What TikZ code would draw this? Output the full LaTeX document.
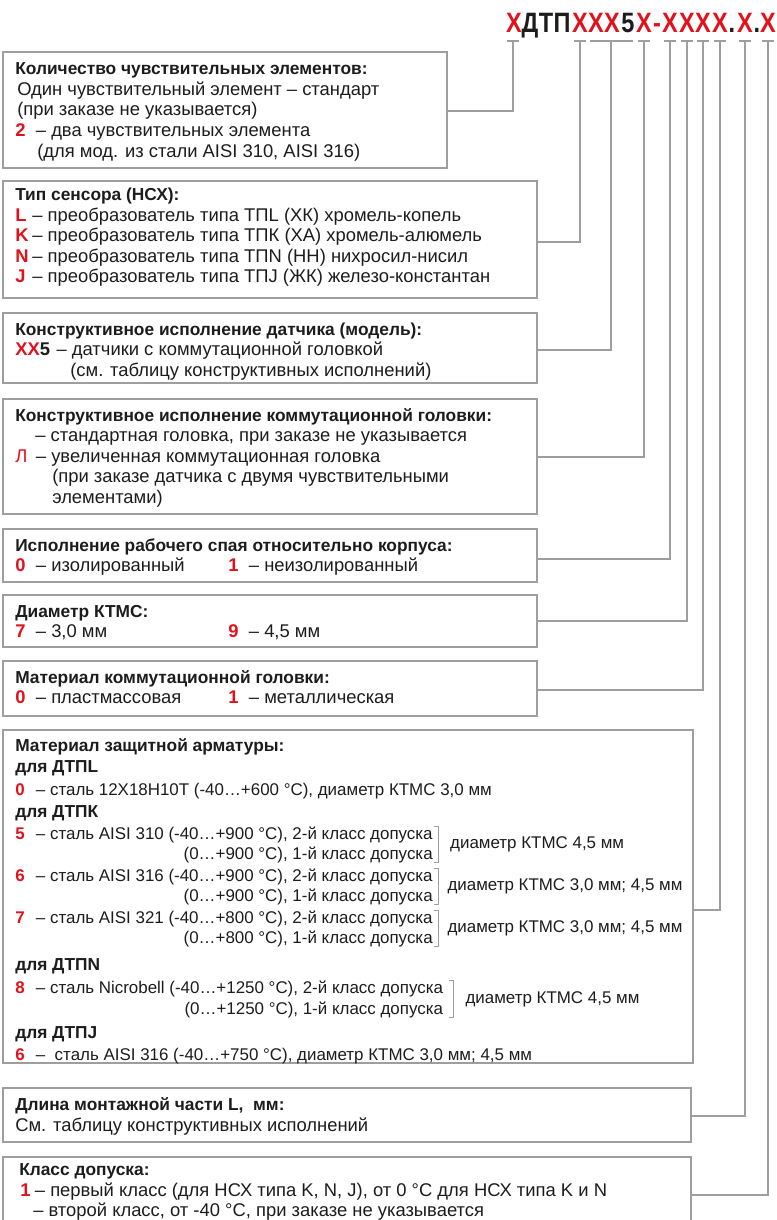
\documentclass[tikz,border=0pt]{standalone}
\usepackage{fontspec}
\usepackage{graphicx}
\setmainfont{Liberation Sans}
\usetikzlibrary{positioning,fit}

\definecolor{codered}{RGB}{226,18,28}
\definecolor{inkgray}{RGB}{28,28,28}
\definecolor{framegray}{RGB}{158,158,158}

\newcommand{\txtfont}{\fontsize{13.8}{15}\selectfont}
\newcommand{\ttlfont}{\fontsize{13}{15}\selectfont\bfseries}
\newcommand{\rowfont}{\fontsize{12.7}{15}\selectfont}
\newcommand{\codefont}{\fontsize{21}{24}\selectfont\bfseries}
\newcommand{\rd}[1]{\textcolor{codered}{\textbf{#1}}}
\newcommand{\nm}[2][15.5pt]{\makebox[#1][l]{\rd{#2}}}

\tikzset{
  box/.style={draw=framegray, line width=1.5pt, inner sep=0pt},
  wire/.style={draw=framegray, line width=1.1pt},
  brk/.style={draw=framegray, line width=0.6pt},
  txt/.style={anchor=base west, inner sep=0pt, font=\txtfont, text=inkgray},
  rowtxt/.style={txt, font=\rowfont},
  ttl/.style={txt, font=\ttlfont},
  codechar/.style={anchor=base, inner sep=0pt, font=\codefont},
}

\begin{document}
\begin{tikzpicture}[x=0.75pt,y=0.75pt,yscale=-1]
\useasboundingbox (0,0) rectangle (777,1220);

% Code line
\foreach \ch/\xx/\cc [count=\i] in {X/514/codered, Д/530/inkgray, Т/546/inkgray, П/562/inkgray, X/580/codered, X/596/codered, X/612/codered, 5/628/inkgray, X/644/codered, -/657/codered, X/670/codered, X/687/codered, X/703/codered, X/720/codered, ./732/inkgray, X/745/codered, ./757/inkgray, X/768/codered}
  \node [codechar, text=\cc] (c\i) at (\xx,33) {\scalebox{0.84}[1]{\ch}};

% Tick points
\coordinate (k1) at (513,41);
\coordinate (k2) at (580,41);
\coordinate (k3) at (611,41);
\coordinate (k4) at (644,41);
\coordinate (k5) at (670,41);
\coordinate (k6) at (687,41);
\coordinate (k7) at (703,41);
\coordinate (k8) at (720,41);
\coordinate (k9) at (745,41);
\coordinate (k10) at (768,41);

%Straight Lines
\draw [wire] (k1) ++(-6,0) -- ++(12,0);
\draw [wire] (k2) ++(-6,0) -- ++(12,0);
\draw [wire] (590,41) -- (633,41);
\draw [wire] (k4) ++(-6,0) -- ++(12,0);
\draw [wire] (k5) ++(-6,0) -- ++(12,0);
\draw [wire] (k6) ++(-6,0) -- ++(12,0);
\draw [wire] (k7) ++(-6,0) -- ++(12,0);
\draw [wire] (k8) ++(-6,0) -- ++(12,0);
\draw [wire] (k9) ++(-6,0) -- ++(12,0);
\draw [wire] (k10) ++(-6,0) -- ++(12,0);

% Boxes
\node [box, fit={(3,52) (447,168)}] (b1) {};
\node [box, fit={(3,181) (537,298)}] (b2) {};
\node [box, fit={(3,313) (537,383)}] (b3) {};
\node [box, fit={(3,399) (537,514)}] (b4) {};
\node [box, fit={(3,529) (537,582)}] (b5) {};
\node [box, fit={(3,595) (537,647)}] (b6) {};
\node [box, fit={(3,661) (537,716)}] (b7) {};
\node [box, fit={(3,730) (693,1063)}] (b8) {};
\node [box, fit={(3,1088) (691,1142)}] (b9) {};
\node [box, fit={(3,1157) (691,1240)}] (b10) {};

% Connectors
\draw [wire] (b1.east |- 0,111) -| (k1);
\draw [wire] (b2.east |- 0,242) -| (k2);
\draw [wire] (b3.east |- 0,350) -| (k3);
\draw [wire] (b4.east |- 0,457) -| (k4);
\draw [wire] (b5.east |- 0,559) -| (k5);
\draw [wire] (b6.east |- 0,621) -| (k6);
\draw [wire] (b7.east |- 0,690) -| (k7);
\draw [wire] (b8.east |- 0,910) -| (k8);
\draw [wire] (b9.east |- 0,1116) -| (k9);
\draw [wire] (b10.east |- 0,1195) -| (k10);

% Text Node
\node [ttl] (h1) at (15,75) {Количество чувствительных элементов:};
\node [txt] (l1a) at (17,95.5) {Один чувствительный элемент – стандарт};
\node [txt] (l1b) at (17,116) {(при заказе не указывается)};
\node [txt] (l1c) at (15,136.5) {\nm{2}– два чувствительных элемента};
\node [txt] (l1d) at (37,157) {(для мод. из стали AISI 310, AISI 316)};

% Text Node
\node [ttl] (h2) at (15,200.5) {Тип сенсора (НСХ):};
\node [txt] (l2a) at (15,221) {\nm[12.75pt]{L}– преобразователь типа ТПL (ХК) хромель-копель};
\node [txt] (l2b) at (15,241.5) {\nm[12.75pt]{K}– преобразователь типа ТПК (ХА) хромель-алюмель};
\node [txt] (l2c) at (15,262) {\nm[12.75pt]{N}– преобразователь типа ТПN (НН) нихросил-нисил};
\node [txt] (l2d) at (15,282.5) {\nm[12.75pt]{J}– преобразователь типа ТПJ (ЖК) железо-константан};

% Text Node
\node [ttl] (h3) at (15,335) {Конструктивное исполнение датчика (модель):};
\node [txt] (l3a) at (15,355.5) {\makebox[31pt][l]{\rd{XX}\textbf{5}}– датчики с коммутационной головкой};
\node [txt] (l3b) at (70,376) {(см. таблицу конструктивных исполнений)};

% Text Node
\node [ttl] (h4) at (15,421) {Конструктивное исполнение коммутационной головки:};
\node [txt] (l4a) at (35,441.5) {– стандартная головка, при заказе не указывается};
\node [txt] (l4b) at (15,462) {\makebox[15.5pt][l]{\textcolor{codered}{Л}}– увеличенная коммутационная головка};
\node [txt] (l4c) at (52,482.5) {(при заказе датчика с двумя чувствительными};
\node [txt] (l4d) at (52,503) {элементами)};

% Text Node
\node [ttl] (h5) at (15,551) {Исполнение рабочего спая относительно корпуса:};
\node [txt] (l5a) at (15,571.5) {\nm{0}– изолированный};
\node [txt] (l5b) at (228,571.5) {\nm{1}– неизолированный};

% Text Node
\node [ttl] (h6) at (15,617) {Диаметр КТМС:};
\node [txt] (l6a) at (15,637.5) {\nm{7}– 3,0 мм};
\node [txt] (l6b) at (228,637.5) {\nm{9}– 4,5 мм};

% Text Node
\node [ttl] (h7) at (15,683) {Материал коммутационной головки:};
\node [txt] (l7a) at (15,703.5) {\nm{0}– пластмассовая};
\node [txt] (l7b) at (228,703.5) {\nm{1}– металлическая};

% Text Node
\node [ttl] (h8) at (15,751) {Материал защитной арматуры:};
\node [ttl] (g8a) at (15,772) {для ДТПL};
\node [rowtxt] (l8a) at (15,795) {\nm{0}– сталь 12Х18Н10Т (-40…+600 °C), диаметр КТМС 3,0 мм};
\node [ttl] (g8b) at (15,817) {для ДТПК};

\node [rowtxt] (r5a) at (15,839) {\nm{5}– сталь AISI 310 (-40…+900 °C), 2-й класс допуска};
\node [rowtxt, anchor=base east] (r5b) at (r5a.base east |- 0,859) {(0…+900 °C), 1-й класс допуска};
\draw [brk] (r5a.north east) ++(1,0) -- ++(4,0) coordinate (q5) -- (q5 |- r5b.south) -- ++(-4,0);
\path (q5) -- (q5 |- r5b.south) coordinate [midway] (m5);
\node [rowtxt, anchor=west] (d5) [right=9pt of m5] {диаметр КТМС 4,5 мм};

\node [rowtxt] (r6a) at (15,881) {\nm{6}– сталь AISI 316 (-40…+900 °C), 2-й класс допуска};
\node [rowtxt, anchor=base east] (r6b) at (r6a.base east |- 0,901) {(0…+900 °C), 1-й класс допуска};
\draw [brk] (r6a.north east) ++(1,0) -- ++(4,0) coordinate (q6) -- (q6 |- r6b.south) -- ++(-4,0);
\path (q6) -- (q6 |- r6b.south) coordinate [midway] (m6);
\node [rowtxt, anchor=west] (d6) [right=7pt of m6] {диаметр КТМС 3,0 мм; 4,5 мм};

\node [rowtxt] (r7a) at (15,923) {\nm{7}– сталь AISI 321 (-40…+800 °C), 2-й класс допуска};
\node [rowtxt, anchor=base east] (r7b) at (r7a.base east |- 0,943) {(0…+800 °C), 1-й класс допуска};
\draw [brk] (r7a.north east) ++(1,0) -- ++(4,0) coordinate (q7) -- (q7 |- r7b.south) -- ++(-4,0);
\path (q7) -- (q7 |- r7b.south) coordinate [midway] (m7);
\node [rowtxt, anchor=west] (d7) [right=7pt of m7] {диаметр КТМС 3,0 мм; 4,5 мм};

\node [ttl] (g8c) at (15,970) {для ДТПN};
\node [rowtxt] (r8a) at (15,993) {\nm{8}– сталь Nicrobell (-40…+1250 °C), 2-й класс допуска};
\node [rowtxt, anchor=base east] (r8b) at (r8a.base east |- 0,1014) {(0…+1250 °C), 1-й класс допуска};
\draw [brk] (r8a.north east) ++(6,0) -- ++(4,0) coordinate (q8) -- (q8 |- r8b.south) -- ++(-4,0);
\path (q8) -- (q8 |- r8b.south) coordinate [midway] (m8);
\node [rowtxt, anchor=west] (d8) [right=9pt of m8] {диаметр КТМС 4,5 мм};

\node [ttl] (g8d) at (15,1038) {для ДТПJ};
\node [rowtxt] (l8b) at (15,1060) {\nm{6}–\ \ сталь AISI 316 (-40…+750 °C), диаметр КТМС 3,0 мм; 4,5 мм};

% Text Node
\node [ttl] (h9) at (15,1110) {Длина монтажной части L,\ \ мм:};
\node [txt] (l9a) at (15,1131) {См. таблицу конструктивных исполнений};

% Text Node
\node [ttl] (h10) at (19,1175) {Класс допуска:};
\node [txt] (l10a) at (20,1196) {\nm[11pt]{1}– первый класс (для НСХ типа K, N, J), от 0 °C для НСХ типа K и N};
\node [txt] (l10b) at (33,1216) {– второй класс, от -40 °C, при заказе не указывается};

\end{tikzpicture}
\end{document}
